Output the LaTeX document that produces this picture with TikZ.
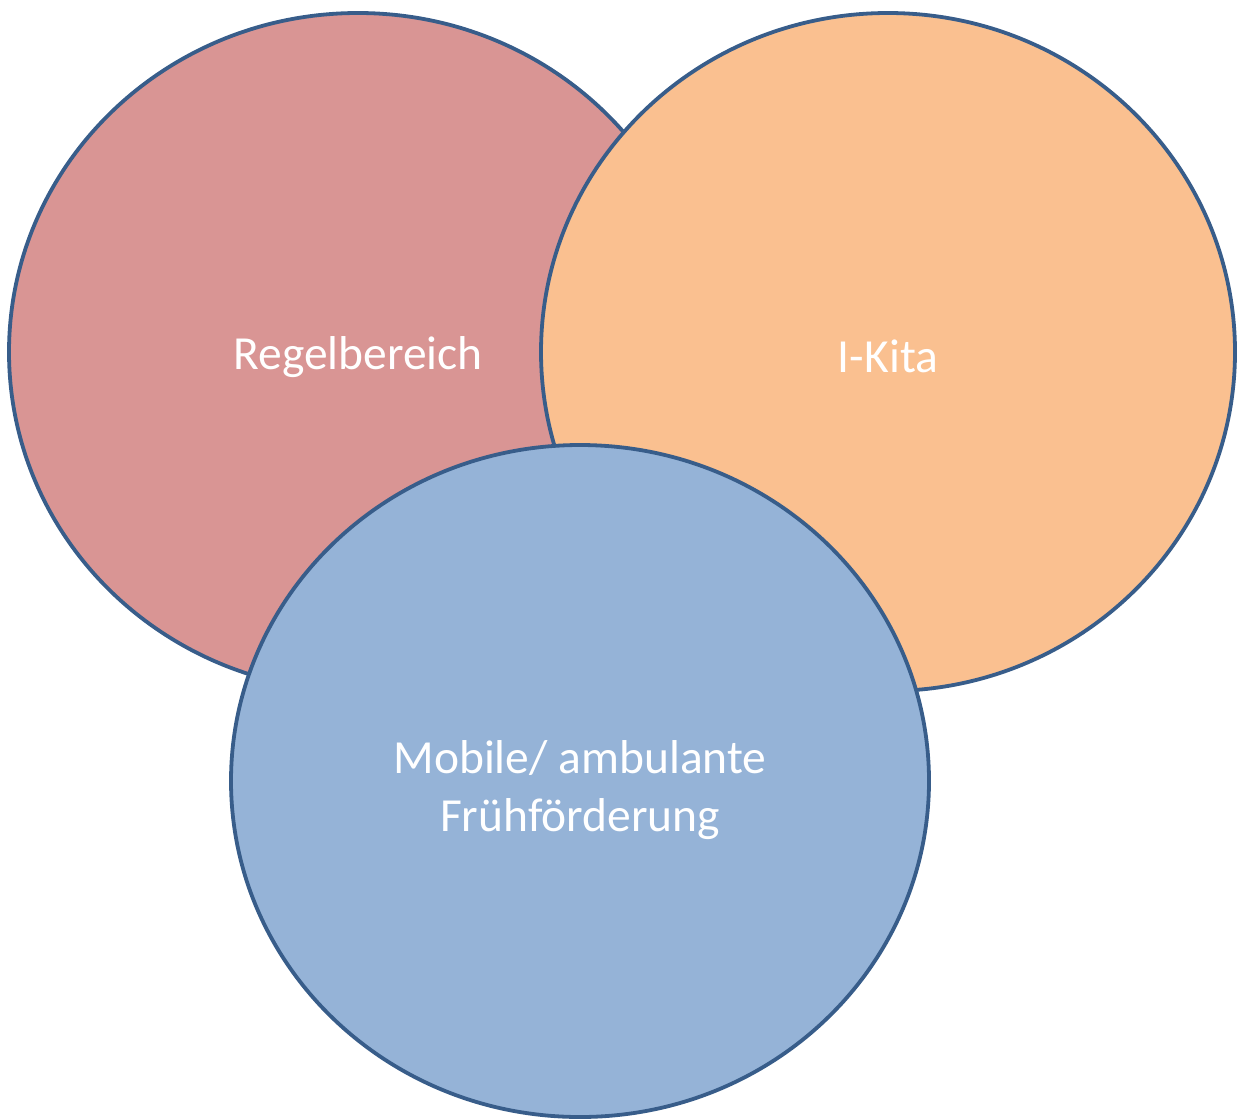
\documentclass[tikz,border=0pt]{standalone}
\usepackage{fontspec}
\setmainfont{Carlito}
\usetikzlibrary{shapes.geometric}
\definecolor{myframe}{RGB}{56,93,138}
\definecolor{myred}{RGB}{217,149,148}
\definecolor{myorange}{RGB}{250,192,144}
\definecolor{myblue}{RGB}{149,179,215}
\tikzset{circ/.style={ellipse,draw=myframe,line width=3.8pt,inner sep=0pt},
  circtext/.style={text=white,align=center,font=\fontsize{47.5}{58}\selectfont}}

\begin{document}
\begin{tikzpicture}[x=1pt,y=-1pt]
  \useasboundingbox (0,0) rectangle (1238,1119);
  \node[circ,fill=myred,minimum width=698,minimum height=678] (regel) at (358,352) {};
  \node[circ,fill=myorange,minimum width=694,minimum height=678] (kita) at (888,352) {};
  \node[circ,fill=myblue,minimum width=698,minimum height=672] (mobil) at (580,781) {};
  % Beschriftungen
  \node[circtext] (regeltext) at ([yshift=-5pt]regel.center) {Regelbereich};
  \node[circtext] (kitatext) at ([yshift=-4pt]kita.center) {I-Kita};
  \node[circtext] (mobiltext) at ([yshift=-9pt]mobil.center) {Mobile/ ambulante\\Frühförderung};
\end{tikzpicture}
\end{document}
